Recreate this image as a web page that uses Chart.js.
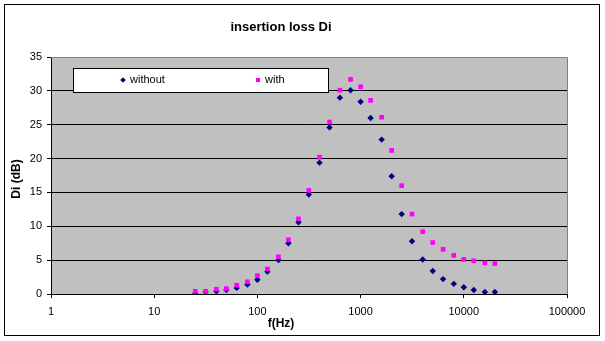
<!DOCTYPE html>
<html>
<head>
<meta charset="utf-8">
<script src="https://cdn.jsdelivr.net/npm/chart.js@4.4.0/dist/chart.umd.min.js"></script>
<style>
  body { margin: 0; background: #fff; }
  canvas { display: block; }
</style>
</head>
<body>
<canvas id="grafico" width="605" height="341"></canvas>
<script>
// third-octave band centre frequencies (Hz)
const frequencias = [25, 31.5, 40, 50, 63, 80, 100, 125, 160, 200, 250, 315, 400, 500, 630,
    800, 1000, 1250, 1600, 2000, 2500, 3150, 4000, 5000, 6300, 8000, 10000, 12500, 16000, 20000];

// insertion loss Di (dB)
const semDados = [0.1, 0.3, 0.4, 0.6, 0.9, 1.4, 2.1, 3.3, 5.0, 7.5, 10.6, 14.7, 19.4, 24.6, 29.0,
    30.1, 28.4, 26.0, 22.8, 17.4, 11.8, 7.8, 5.1, 3.4, 2.2, 1.5, 1.0, 0.6, 0.3, 0.3];
const comDados = [0.4, 0.4, 0.7, 0.8, 1.3, 1.8, 2.7, 3.7, 5.5, 8.0, 11.1, 15.3, 20.2, 25.4, 30.1,
    31.7, 30.6, 28.6, 26.1, 21.2, 16.0, 11.8, 9.2, 7.6, 6.6, 5.7, 5.1, 4.9, 4.6, 4.5];

const ticksX = [1, 10, 100, 1000, 10000, 100000];
const titulo = "insertion loss Di";
const tituloX = "f(Hz)";
const tituloY = "Di (dB)";

function pontos(valores) {
    return frequencias.map((f, i) => ({ x: f, y: valores[i] }));
}

const fonte = "'Liberation Sans', Arial, sans-serif";

// gray plot area, frame, legend and titles, Excel style
const estiloExcel = {
    id: 'estiloExcel',
    beforeDraw(chart) {
        const { ctx, chartArea: a } = chart;
        ctx.save();
        ctx.fillStyle = '#fff';
        ctx.fillRect(0, 0, chart.width, chart.height);
        ctx.fillStyle = '#c0c0c0';
        ctx.fillRect(a.left, a.top, a.right - a.left, a.bottom - a.top);
        ctx.restore();
    },
    afterDraw(chart) {
        const { ctx, chartArea: a } = chart;
        ctx.save();
        // top and right border of plot area
        ctx.strokeStyle = '#808080';
        ctx.lineWidth = 1;
        ctx.beginPath();
        ctx.moveTo(a.left, Math.round(a.top) + 0.5);
        ctx.lineTo(Math.round(a.right) + 0.5, Math.round(a.top) + 0.5);
        ctx.lineTo(Math.round(a.right) + 0.5, a.bottom);
        ctx.stroke();

        // legend
        ctx.fillStyle = '#fff';
        ctx.fillRect(73, 68, 255, 24);
        ctx.strokeStyle = '#000';
        ctx.strokeRect(73.5, 68.5, 255, 24);
        const ds = chart.data.datasets;
        const posLegenda = [123, 258];
        ctx.font = '11px ' + fonte;
        ctx.textBaseline = 'middle';
        ctx.textAlign = 'left';
        ds.forEach((d, i) => {
            const x = posLegenda[i];
            ctx.fillStyle = d.backgroundColor;
            ctx.strokeStyle = d.backgroundColor;
            ctx.lineWidth = 0;
            Chart.helpers.drawPoint(ctx, {
                pointStyle: d.pointStyle, radius: d.pointRadius - 0.4, rotation: 0, borderWidth: 0
            }, x, 80);
            ctx.fillStyle = '#000';
            ctx.fillText(d.label, x + 7, 80);
        });

        // titles
        ctx.fillStyle = '#000';
        ctx.textAlign = 'center';
        ctx.font = 'bold 13px ' + fonte;
        ctx.fillText(titulo, 281, 27);
        ctx.font = 'bold 12px ' + fonte;
        ctx.fillText(tituloX, 281, 324);
        ctx.save();
        ctx.translate(17, 179);
        ctx.rotate(-Math.PI / 2);
        ctx.fillText(tituloY, 0, 0);
        ctx.restore();

        // outer frame
        ctx.strokeStyle = '#000';
        ctx.lineWidth = 1;
        ctx.strokeRect(4.5, 4.5, 595, 331);
        ctx.restore();
    }
};

const grafico = new Chart(document.getElementById('grafico'), {
    type: 'scatter',
    data: {
        datasets: [{
            label: 'without',
            data: pontos(semDados),
            pointStyle: 'rectRot',
            pointRadius: 3.2,
            pointHoverRadius: 3.2,
            backgroundColor: '#000080',
            borderColor: '#000080',
            borderWidth: 0,
            order: 1
        }, {
            label: 'with',
            data: pontos(comDados),
            pointStyle: 'rect',
            pointRadius: 3.3,
            pointHoverRadius: 3.3,
            backgroundColor: '#ff00ff',
            borderColor: '#ff00ff',
            borderWidth: 0,
            order: 0
        }]
    },
    options: {
        responsive: false,
        devicePixelRatio: 1,
        animation: false,
        layout: { padding: { left: 0, top: 57, right: 38, bottom: 0 } },
        plugins: {
            legend: { display: false },
            title: { display: false },
            tooltip: { enabled: false }
        },
        scales: {
            x: {
                type: 'logarithmic',
                min: 1,
                max: 100000,
                afterBuildTicks: s => { s.ticks = ticksX.map(v => ({ value: v })); },
                afterFit: s => { s.height = 47; },
                grid: { drawOnChartArea: false, color: '#000', tickLength: 4 },
                border: { color: '#000' },
                ticks: {
                    autoSkip: false,
                    maxRotation: 0,
                    padding: 7,
                    color: '#000',
                    font: { family: fonte, size: 11 },
                    callback: v => String(v)
                }
            },
            y: {
                min: 0,
                max: 35,
                afterFit: s => { s.width = 51; },
                grid: {
                    color: c => (c.tick && c.tick.value === 35) ? '#808080' : '#000',
                    tickColor: '#000',
                    tickLength: 4
                },
                border: { color: '#000' },
                ticks: {
                    stepSize: 5,
                    padding: 5,
                    color: '#000',
                    font: { family: fonte, size: 11 }
                }
            }
        }
    },
    plugins: [estiloExcel]
});
</script>
</body>
</html>
